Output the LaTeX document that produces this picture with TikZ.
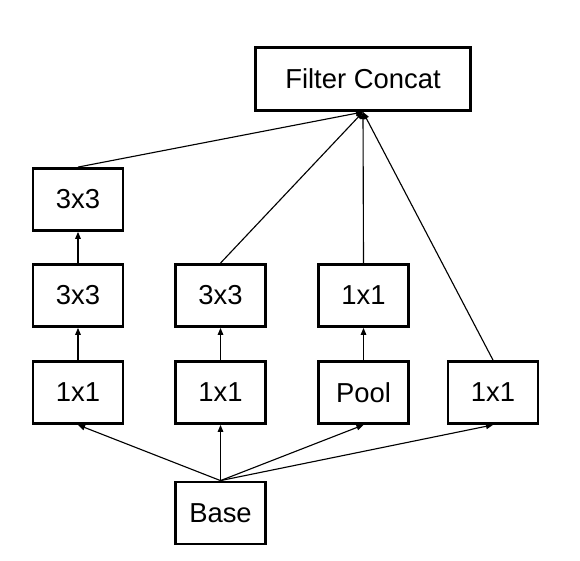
\documentclass[tikz,border=0pt]{standalone}
\usepackage{fontspec}
\setmainfont{Liberation Sans}
\usepackage{tikz}
\usetikzlibrary{arrows.meta, positioning}

\begin{document}
\begin{tikzpicture}[
  blk/.style={draw, line width=2pt, inner sep=0pt, minimum width=2.25cm, minimum height=1.55cm, font=\fontsize{19.5}{23}\selectfont},
  arr/.style={-{Triangle[length=5pt, width=4pt]}, line width=0.8pt}
]
  \useasboundingbox (0,0) rectangle (14.5,14);

  \node[blk, minimum width=5.38cm, minimum height=1.58cm] (FC) at (9.075, 12.025) {Filter Concat};

  % left branch
  \node[blk] (A3) at (1.95, 9.0125) {3x3};
  \node[blk] (A2) at (1.95, 6.6125) {3x3};
  \node[blk] (A1) at (1.95, 4.1875) {1x1};
  % second branch
  \node[blk] (B2) at (5.5125, 6.6125) {3x3};
  \node[blk] (B1) at (5.5125, 4.1875) {1x1};
  % pooling branch
  \node[blk] (C2) at (9.0875, 6.6125) {1x1};
  \node[blk] (C1) at (9.0875, 4.1875) {Pool};
  % right branch
  \node[blk] (D1) at (12.325, 4.1875) {1x1};

  \node[blk] (Base) at (5.5125, 1.175) {Base};

  \draw[arr] (Base.north) -- (A1.south);
  \draw[arr] (Base.north) -- (B1.south);
  \draw[arr] (Base.north) -- (C1.south);
  \draw[arr] (Base.north) -- (D1.south);

  \draw[arr] (A1) -- (A2);
  \draw[arr] (A2) -- (A3);
  \draw[arr] (B1) -- (B2);
  \draw[arr] (C1) -- (C2);

  \draw[arr] (A3.north) -- (FC.south);
  \draw[arr] (B2.north) -- (FC.south);
  \draw[arr] (C2.north) -- (FC.south);
  \draw[arr] (D1.north) -- (FC.south);
\end{tikzpicture}
\end{document}
